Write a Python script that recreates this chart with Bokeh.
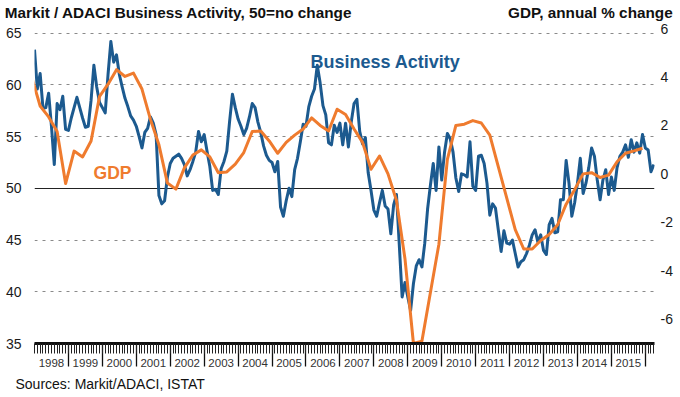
from bokeh.plotting import figure
from bokeh.models import Range1d, LinearAxis, FixedTicker, Grid, Label, Title
from bokeh.embed import file_html
from bokeh.resources import INLINE

# ---- Markit/ADACI Business Activity index (monthly, Jan 1998 - Apr 2016) ----
pmi_1998 = [63.4, 59.6, 61.1, 57.7, 57.8, 59.2, 56.0, 52.3, 58.2, 57.6, 58.9, 55.7]
pmi_1999 = [55.6, 56.8, 57.8, 58.8, 57.8, 56.8, 55.9, 56.0, 58.5, 61.9, 59.8, 58.3]
pmi_2000 = [57.8, 57.3, 61.0, 64.2, 62.2, 62.9, 61.0, 59.8, 58.7, 57.9, 57.0, 56.6]
pmi_2001 = [56.0, 55.0, 53.9, 55.4, 55.8, 56.9, 56.3, 55.2, 49.3, 48.5, 48.8, 51.1]
pmi_2002 = [52.4, 52.9, 53.1, 53.3, 52.9, 52.3, 51.2, 51.8, 52.6, 53.5, 55.5, 54.5]
pmi_2003 = [55.2, 53.6, 52.1, 49.8, 49.9, 49.4, 51.9, 52.6, 53.6, 56.5, 59.1, 57.8]
pmi_2004 = [56.7, 56.0, 55.2, 55.8, 56.9, 58.2, 57.8, 56.4, 55.4, 54.1, 53.2, 52.7]
pmi_2005 = [52.5, 51.6, 52.6, 48.2, 47.3, 48.8, 50.0, 49.2, 51.8, 52.9, 54.5, 56.2]
pmi_2006 = [56.0, 57.9, 58.9, 59.6, 61.9, 60.2, 58.0, 57.1, 54.4, 54.2, 56.1, 55.4]
pmi_2007 = [56.3, 54.2, 56.3, 54.0, 56.4, 58.2, 58.6, 55.5, 54.3, 54.9, 51.5, 49.8]
pmi_2008 = [47.9, 47.3, 48.6, 49.8, 48.3, 48.0, 45.6, 48.4, 49.4, 44.5, 39.5, 40.9]
pmi_2009 = [39.5, 38.2, 40.8, 42.5, 43.1, 42.4, 44.7, 48.0, 50.3, 52.4, 49.8, 54.0]
pmi_2010 = [50.8, 53.5, 55.3, 54.8, 53.5, 51.0, 49.7, 51.4, 51.3, 51.1, 54.5, 50.2]
pmi_2011 = [49.8, 53.1, 53.2, 52.4, 50.5, 47.4, 48.5, 48.1, 46.0, 43.9, 45.9, 44.7]
pmi_2012 = [44.6, 45.0, 43.7, 42.4, 42.9, 43.1, 43.7, 44.5, 45.5, 46.0, 44.8, 45.5]
pmi_2013 = [44.0, 43.6, 46.5, 47.1, 45.7, 45.8, 48.9, 48.9, 52.7, 50.5, 47.3, 48.6]
pmi_2014 = [50.5, 52.9, 49.5, 50.5, 52.0, 53.9, 53.1, 50.8, 48.9, 50.8, 51.8, 49.4]
pmi_2015 = [51.1, 49.8, 52.0, 53.1, 53.5, 54.2, 53.0, 54.7, 53.5, 54.4, 53.4, 55.2]
pmi_2016 = [53.9, 53.7, 51.6, 52.3]

# ---- GDP, annual % change (quarterly, Q4 1997 - Q4 2015) ----
gdp_1997 = [4.0]
gdp_1998 = [2.8, 2.35, 1.75, -0.4]
gdp_1999 = [0.94, 0.7, 1.36, 3.2]
gdp_2000 = [3.7, 4.3, 4.02, 4.16]
gdp_2001 = [3.5, 2.25, 1.2, -0.38]
gdp_2002 = [-0.63, 0.25, 0.78, 0.99]
gdp_2003 = [0.7, 0.05, 0.08, 0.4]
gdp_2004 = [0.88, 1.75, 1.77, 1.36]
gdp_2005 = [0.85, 1.3, 1.6, 1.85]
gdp_2006 = [2.31, 2.0, 1.77, 2.67]
gdp_2007 = [2.45, 1.85, 1.3, 0.19]
gdp_2008 = [0.74, 0.0, -1.1, -3.5]
gdp_2009 = [-7.0, -6.9, -4.9, -2.9]
gdp_2010 = [0.6, 2.0, 2.05, 2.2]
gdp_2011 = [2.1, 1.6, 0.3, -1.0]
gdp_2012 = [-2.3, -3.1, -3.1, -2.75]
gdp_2013 = [-2.5, -2.1, -1.25, -0.65]
gdp_2014 = [0.0, 0.05, -0.15, -0.05]
gdp_2015 = [0.5, 0.85, 0.95, 1.06]

# ---- axes / texts ----
years = list(range(1998, 2016))
year_labels = [str(y) for y in years]
left_ticks = [35, 40, 45, 50, 55, 60, 65]
left_grid_dashed = [40, 45, 55, 60, 65]
gdp_ticks = [-6, -4, -2, 0, 2, 4, 6]
gdp_tick_labels = ["-6", "-4", "-2", "0", "2", "4", "6"]

title_left = "Markit / ADACI  Business Activity, 50=no change"
title_right = "GDP, annual % change"
source_text = "Sources: Markit/ADACI, ISTAT"

BLUE = "#1c5a8f"
ORANGE = "#ef7b2e"
FONT = "Liberation Sans"

business_activity = (pmi_1998 + pmi_1999 + pmi_2000 + pmi_2001 + pmi_2002 + pmi_2003 +
                     pmi_2004 + pmi_2005 + pmi_2006 + pmi_2007 + pmi_2008 + pmi_2009 +
                     pmi_2010 + pmi_2011 + pmi_2012 + pmi_2013 + pmi_2014 + pmi_2015 + pmi_2016)
pmi_x = [1998 + m / 12 for m in range(len(business_activity))]

gdp = (gdp_1997 + gdp_1998 + gdp_1999 + gdp_2000 + gdp_2001 + gdp_2002 + gdp_2003 +
       gdp_2004 + gdp_2005 + gdp_2006 + gdp_2007 + gdp_2008 + gdp_2009 + gdp_2010 +
       gdp_2011 + gdp_2012 + gdp_2013 + gdp_2014 + gdp_2015)
# quarterly values plotted at quarter-end months (Q4 1997 = Dec 1997)
gdp_x = [1998 + (3 * q + 2) / 12 for q in range(-1, len(gdp) - 1)]

X_START, X_END = 1998.0, 2016.27
W, H = 680, 397

p = figure(width=W, height=H, output_backend="svg", toolbar_location=None,
           x_range=Range1d(X_START, X_END), y_range=Range1d(35, 65.45),
           x_axis_location=None, y_axis_location=None,
           min_border_left=34, min_border_right=26, min_border_top=27, min_border_bottom=54)
p.extra_y_ranges = {"gdp": Range1d(-7, 6)}
p.outline_line_color = None
p.background_fill_color = "white"
p.border_fill_color = "white"
p.center = [r for r in p.center if not isinstance(r, Grid)]

# grid lines
p.add_layout(Grid(dimension=1, ticker=FixedTicker(ticks=left_grid_dashed),
                  grid_line_color="#8a8a8a", grid_line_dash="3 5", grid_line_width=1))
p.add_layout(Grid(dimension=1, ticker=FixedTicker(ticks=[50]),
                  grid_line_color="#222222", grid_line_width=1))

# y axes
yl = LinearAxis(ticker=FixedTicker(ticks=left_ticks))
yr = LinearAxis(y_range_name="gdp", ticker=FixedTicker(ticks=gdp_ticks))
yr.major_label_overrides = {t: lab for t, lab in zip(gdp_ticks, gdp_tick_labels)}
for ax, standoff in ((yl, 13), (yr, 6)):
    ax.axis_line_color = None
    ax.major_tick_line_color = None
    ax.minor_tick_line_color = None
    ax.major_tick_out = 0
    ax.major_label_standoff = standoff
    ax.major_label_text_font = FONT
    ax.major_label_text_font_size = "14px"
    ax.major_label_text_color = "#1a1a1a"
p.add_layout(yl, "left")
p.add_layout(yr, "right")

# header texts carried by a tick-less top axis
xt = LinearAxis(ticker=FixedTicker(ticks=[2002.31, 2014.38]))
xt.axis_line_color = None
xt.major_tick_line_color = None
xt.minor_tick_line_color = None
xt.major_tick_out = 0
xt.major_label_standoff = 8
xt.major_label_overrides = {2002.31: title_left, 2014.38: title_right}
xt.major_label_text_font = FONT
xt.major_label_text_font_size = "15.3px"
xt.major_label_text_font_style = "bold"
xt.major_label_text_color = "#111111"
p.add_layout(xt, "above")

# bottom axis: thick line, monthly minor ticks, long ticks at year boundaries
month_ticks = [1998 + m / 12 for m in range(0, len(business_activity) + 1)]
xa = LinearAxis(ticker=FixedTicker(ticks=[y + 1 for y in years], minor_ticks=month_ticks))
xa.axis_line_width = 3
xa.axis_line_color = "#111111"
xa.major_tick_out = 23
xa.major_tick_in = 0
xa.major_tick_line_width = 1.3
xa.major_tick_line_color = "#111111"
xa.minor_tick_out = 10
xa.minor_tick_in = 0
xa.minor_tick_line_width = 1
xa.minor_tick_line_color = "#222222"
xa.major_label_overrides = {y + 1: "" for y in years}
xa.major_label_text_font_size = "0px"
xa.major_label_standoff = 0
p.add_layout(xa, "below")

# year labels centred in each year
xb = LinearAxis(ticker=FixedTicker(ticks=[y + 0.5 for y in years]))
xb.axis_line_color = None
xb.major_tick_line_color = None
xb.minor_tick_line_color = None
xb.major_tick_out = 0
xb.major_label_overrides = {y + 0.5: lab for y, lab in zip(years, year_labels)}
xb.major_label_standoff = -8
xb.major_label_text_font = FONT
xb.major_label_text_font_size = "11.5px"
xb.major_label_text_color = "#333333"
p.add_layout(xb, "below")

# source line
p.add_layout(Title(text=source_text, align="left", offset=-19, standoff=9,
                   vertical_align="bottom", text_font=FONT, text_font_size="14px",
                   text_font_style="normal", text_color="#111111"), "below")

# series
p.line(pmi_x, business_activity, line_color=BLUE, line_width=3, line_join="round")
p.line(gdp_x, gdp, y_range_name="gdp", line_color=ORANGE, line_width=3, line_join="round")

# series labels
p.add_layout(Label(x=2006.13, y=62.25, text="Business Activity", text_color=BLUE,
                   text_font=FONT, text_font_size="18px", text_font_style="bold",
                   text_baseline="alphabetic"))
p.add_layout(Label(x=1999.74, y=51.45, text="GDP", text_color=ORANGE,
                   text_font=FONT, text_font_size="17.5px", text_font_style="bold",
                   text_baseline="alphabetic"))

open("out.html", "w").write(file_html(p, INLINE))
